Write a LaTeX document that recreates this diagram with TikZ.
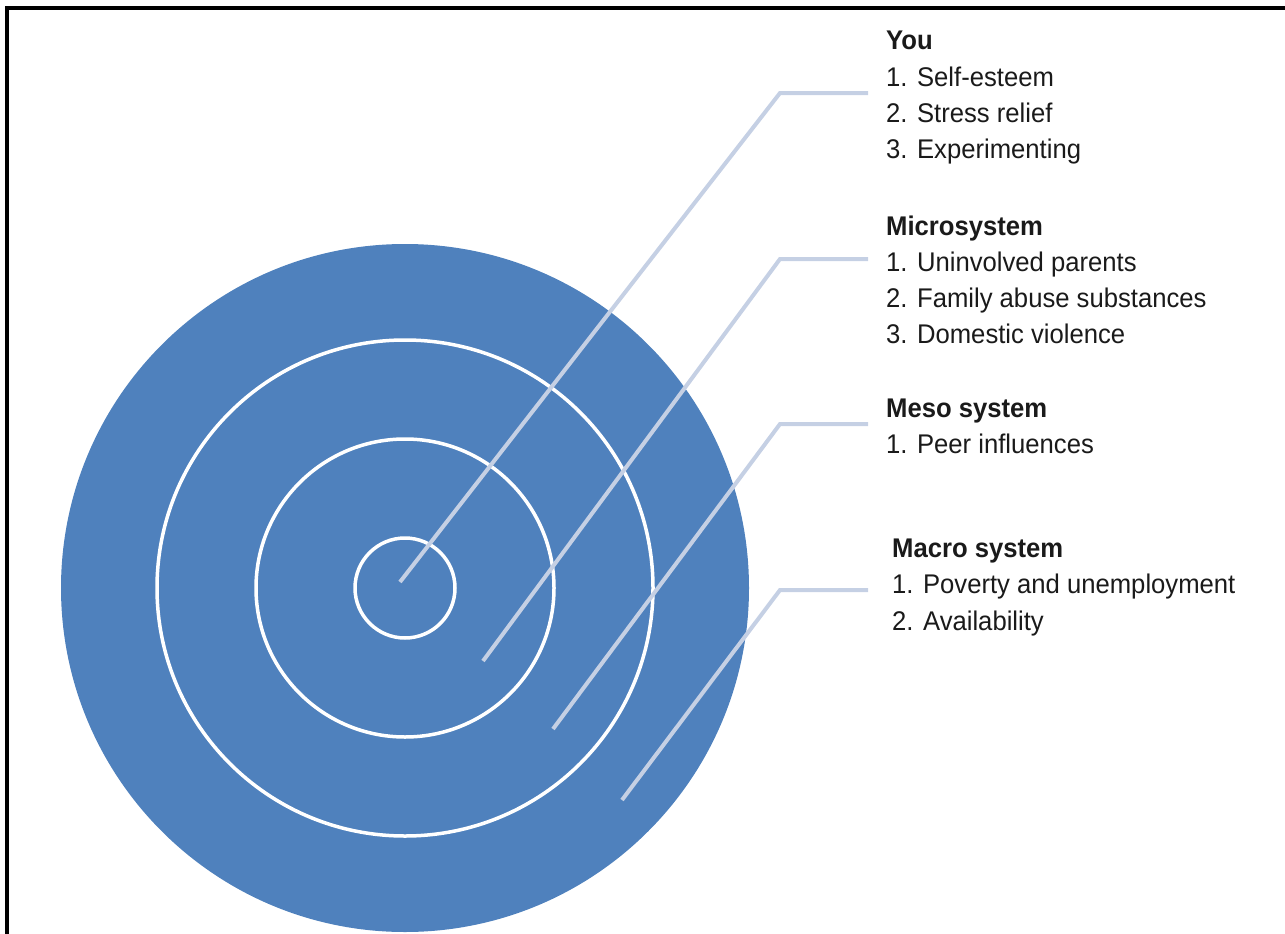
\documentclass[tikz,border=0pt]{standalone}
\usepackage{fontspec}
\setmainfont[FakeStretch=0.95]{Liberation Sans}
\definecolor{ringblue}{HTML}{4F81BD}
\definecolor{leader}{HTML}{C5D0E4}
\definecolor{txt}{HTML}{1A1A1A}
\begin{document}
\begin{tikzpicture}[x=1pt,y=-1pt,
  ring/.style={draw=white,line width=3.5pt},
  leaderline/.style={draw=leader,line width=4pt,line join=miter},
  title/.style={anchor=base west,inner sep=0pt,text=txt,font=\fontsize{27}{32}\selectfont\bfseries},
  item/.style={anchor=base west,inner sep=0pt,text=txt,font=\fontsize{27}{32}\selectfont},
  frame/.style={draw=black,line width=4pt}]
\useasboundingbox (0,0) rectangle (1285,934);
% frame
\coordinate (fTL) at (7,8);
\coordinate (fTR) at (1285,8);
\coordinate (fBL) at (7,934);
\draw[frame] (fBL) -- (fTL) -- (fTR);
% target
\fill[ringblue] (405,588) circle (344);
\draw[ring] (405,588) circle (248);
\draw[ring] (405,588) circle (149);
\draw[ring] (405,588) circle (50);
% leader coordinates
\coordinate (s1) at (400,582);
\coordinate (k1) at (780,93);
\coordinate (e1) at (868,93);
\coordinate (s2) at (483,661);
\coordinate (k2) at (780,259);
\coordinate (e2) at (868,259);
\coordinate (s3) at (553,729);
\coordinate (k3) at (780,424);
\coordinate (e3) at (868,424);
\coordinate (s4) at (622,800);
\coordinate (k4) at (780,590);
\coordinate (e4) at (868,590);
\draw[leaderline] (s1) -- (k1) -- (e1);
\draw[leaderline] (s2) -- (k2) -- (e2);
\draw[leaderline] (s3) -- (k3) -- (e3);
\draw[leaderline] (s4) -- (k4) -- (e4);
% texts
\node[title] (youT) at (886,50) {You};
\node[item] (you1) at (886,86) {1. Self-esteem};
\node[item] (you2) at (886,122) {2. Stress relief};
\node[item] (you3) at (886,158) {3. Experimenting};
\node[title] (micT) at (886,235) {Microsystem};
\node[item] (mic1) at (886,271) {1. Uninvolved parents};
\node[item] (mic2) at (886,307) {2. Family abuse substances};
\node[item] (mic3) at (886,343) {3. Domestic violence};
\node[title] (mesT) at (886,417) {Meso system};
\node[item] (mes1) at (886,453) {1. Peer influences};
\node[title] (macT) at (892,557) {Macro system};
\node[item] (mac1) at (892,593) {1. Poverty and unemployment};
\node[item] (mac2) at (892,630) {2. Availability};
\end{tikzpicture}
\end{document}
